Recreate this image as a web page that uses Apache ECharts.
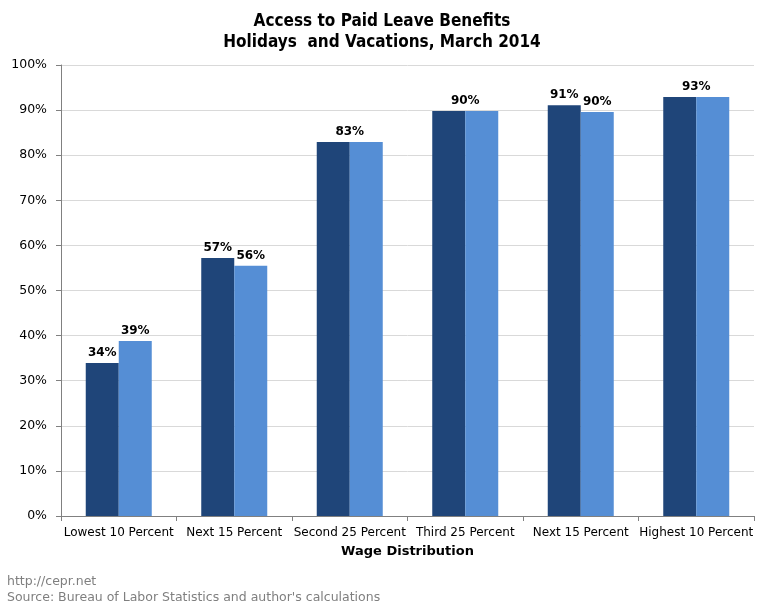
<!DOCTYPE html>
<html><head><meta charset="utf-8">
<script src="https://cdn.jsdelivr.net/npm/echarts@6/dist/echarts.min.js"></script>
<style>html,body{margin:0;padding:0;background:#fff}#c{width:764px;height:608px}</style>
</head><body><div id="c"></div>
<script>
const categories = ['Lowest 10 Percent','Next 15 Percent','Second 25 Percent','Third 25 Percent','Next 15 Percent','Highest 10 Percent'];
const seriesA = [33.9, 57.2, 82.9, 89.8, 91.1, 92.9];
const seriesB = [38.8, 55.5, 82.9, 89.8, 89.6, 92.9];
const yTicks = [0,10,20,30,40,50,60,70,80,90,100];

const BAR_W = 33;
const labelBase = {show:true, position:'top', color:'#000', fontFamily:'DejaVu Sans', fontWeight:'bold', fontSize:12, distance:4,
  formatter: p => Math.round(p.value) + '%'};
const dataA = seriesA.map((v,i) => {
  const same = Math.round(v) === Math.round(seriesB[i]);
  return same ? {value:v, label:{offset:[BAR_W/2,0]}} : {value:v};
});
const dataB = seriesB.map((v,i) => {
  const same = Math.round(v) === Math.round(seriesA[i]);
  return same ? {value:v, label:{show:false}} : {value:v};
});

const chart = echarts.init(document.getElementById('c'));
chart.setOption({
  animation:false,
  title:{text:'Access to Paid Leave Benefits\nHolidays  and Vacations, March 2014', left:'center', top:6,
    textStyle:{fontFamily:'DejaVu Sans Condensed', fontWeight:'bold', fontSize:17, lineHeight:21, color:'#000'}},
  graphic:[
    {type:'text', left:7, top:575, style:{text:'http://cepr.net', fill:'#7f7f7f', font:'12.5px "DejaVu Sans"'}},
    {type:'text', left:7, top:591, style:{text:"Source: Bureau of Labor Statistics and author's calculations", fill:'#7f7f7f', font:'12.5px "DejaVu Sans"'}}
  ],
  grid:{left:61, right:10, top:65, bottom:92, containLabel:false},
  xAxis:{type:'category', data:categories,
    name:'Wage Distribution', nameLocation:'middle', nameGap:29,
    nameTextStyle:{fontFamily:'DejaVu Sans', fontWeight:'bold', fontSize:13, color:'#000'},
    axisLine:{lineStyle:{color:'#808080'}}, axisTick:{show:true, alignWithLabel:false, length:5, lineStyle:{color:'#808080'}},
    axisLabel:{interval:0, color:'#000', fontFamily:'DejaVu Sans', fontSize:12, margin:11}},
  yAxis:{type:'value', min:yTicks[0], max:yTicks[yTicks.length-1], interval:10,
    axisLine:{show:true, lineStyle:{color:'#808080'}}, axisTick:{show:true, length:5, lineStyle:{color:'#808080'}},
    axisLabel:{color:'#000', fontFamily:'DejaVu Sans', fontSize:12.5, margin:14, formatter: v => v + '%'},
    splitLine:{lineStyle:{color:'#d9d9d9'}}},
  series:[
    {name:'Series 1', type:'bar', data:dataA, barWidth:BAR_W, barGap:'0%', itemStyle:{color:'#1F4579'}, label:labelBase},
    {name:'Series 2', type:'bar', data:dataB, barWidth:BAR_W, itemStyle:{color:'#558ED5'}, label:labelBase}
  ]
});
</script></body></html>
